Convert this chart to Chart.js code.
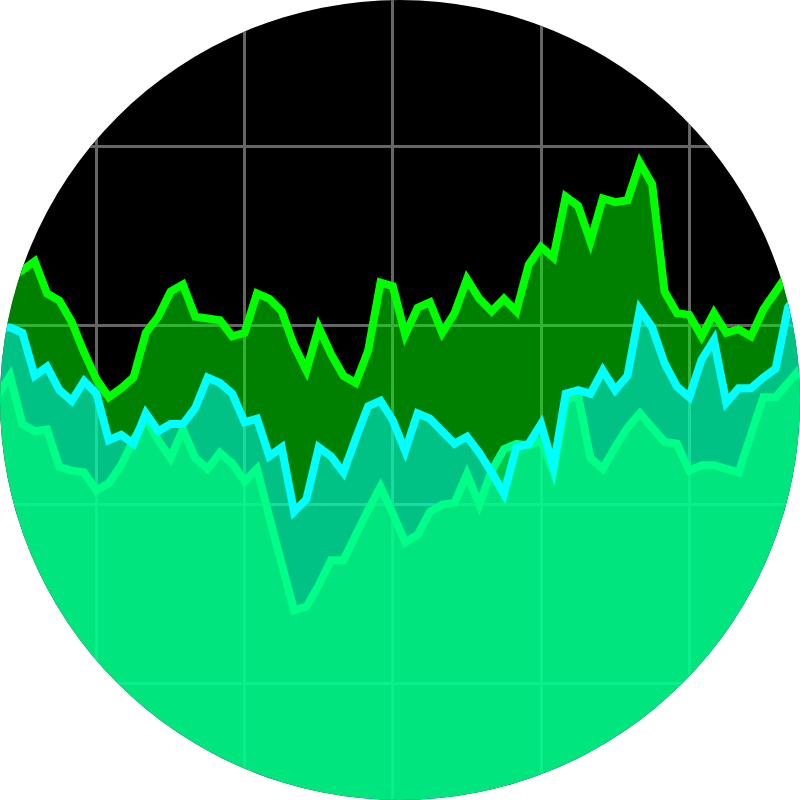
<!DOCTYPE html>
<html>
<head>
<meta charset="utf-8">
<script src="https://cdn.jsdelivr.net/npm/chart.js@4.4.0/dist/chart.umd.min.js"></script>
<style>
  html, body { margin: 0; padding: 0; background: #ffffff; }
  #wrap { position: absolute; left: 0; top: 0; width: 800px; height: 800px; border-radius: 50%; overflow: hidden; background: #000000; }
  canvas { display: block; }
</style>
</head>
<body>
<div id="wrap"><canvas id="c" width="800" height="800"></canvas></div>
<script>
// Sample index for each point (left to right)
const pointIndex = Array.from({length: 66}, (_, i) => i);

// Series values
const topGreen = [22.3, 22.7, 23.1, 23.6, 21.8, 21.4, 20.2, 18.5, 17.0, 16.0,
  16.5, 17.1, 19.6, 20.5, 21.9, 22.3, 20.5, 20.4, 20.3, 19.4,
  19.6, 21.8, 21.5, 20.8, 18.9, 17.5, 19.9, 18.4, 17.2, 16.8,
  18.6, 22.4, 22.2, 19.5, 21.0, 21.3, 19.6, 20.7, 22.6, 21.5,
  20.8, 21.5, 20.8, 23.4, 24.4, 23.8, 27.2, 26.7, 24.7, 27.1,
  26.9, 27.0, 29.1, 27.9, 21.9, 20.7, 20.6, 19.4, 20.7, 19.6,
  19.8, 19.4, 20.9, 21.9, 22.9, 23.9];

const midCyan = [19.9, 19.9, 19.6, 17.2, 17.7, 16.4, 15.8, 16.9, 16.2, 13.6,
  13.9, 13.4, 15.1, 14.1, 14.5, 14.5, 15.4, 17.1, 16.8, 16.2,
  14.6, 14.8, 12.7, 13.2, 9.6, 10.3, 13.2, 12.7, 11.8, 13.7,
  15.5, 15.8, 14.7, 13.0, 15.1, 14.8, 14.1, 13.4, 13.8, 12.9,
  11.8, 10.6, 13.2, 13.4, 14.5, 12.1, 16.2, 16.4, 16.2, 17.5,
  16.4, 17.2, 20.9, 19.9, 17.9, 16.6, 16.0, 18.1, 19.2, 15.7,
  16.5, 16.5, 17.1, 17.6, 21.0, 22.0];

const lowMint = [16.1, 17.2, 14.5, 14.1, 14.2, 12.1, 11.9, 11.8, 10.8, 11.2,
  12.2, 13.6, 14.8, 13.6, 12.6, 14.2, 12.6, 12.0, 12.9, 12.3,
  11.3, 12.0, 9.3, 6.7, 4.1, 4.3, 5.5, 6.9, 6.9, 8.3,
  9.7, 11.0, 9.5, 7.9, 8.3, 9.6, 10.0, 10.1, 11.7, 10.0,
  11.9, 13.1, 13.4, 13.3, 13.6, 11.8, 15.8, 16.1, 12.6, 12.0,
  13.2, 14.3, 15.1, 14.3, 13.5, 13.4, 11.9, 12.2, 12.2, 12.0,
  11.8, 13.9, 16.0, 16.0, 16.8, 17.6];

// Grid line positions (no labels are shown)
const xGridTicks = [8, 20, 32, 44, 56];
const yGridTicks = [0, 10, 20, 30];

const toPoints = vals => vals.map((v, i) => ({x: pointIndex[i], y: v}));

function fillSet(vals, color, order) {
  return { data: toPoints(vals), fill: 'start', backgroundColor: color,
           borderWidth: 0, pointRadius: 0, order: order };
}
function lineSet(vals, color, order) {
  return { data: toPoints(vals), fill: false, borderColor: color,
           borderWidth: 8, pointRadius: 0, order: order, borderJoinStyle: 'miter' };
}

new Chart(document.getElementById('c'), {
  type: 'line',
  data: {
    datasets: [
      fillSet(topGreen, 'rgba(0,255,0,0.5)', 6),
      fillSet(midCyan, 'rgba(0,255,255,0.52)', 5),
      fillSet(lowMint, 'rgba(0,255,122,0.57)', 4),
      lineSet(topGreen, '#00ff00', 3),
      lineSet(lowMint, '#00ff88', 2),
      lineSet(midCyan, '#00ffff', 1)
    ]
  },
  options: {
    responsive: false,
    animation: false,
    devicePixelRatio: 1,
    layout: { padding: 0 },
    elements: { line: { tension: 0 } },
    plugins: {
      legend: { display: false },
      tooltip: { enabled: false },
      filler: { drawTime: 'beforeDatasetsDraw' }
    },
    scales: {
      x: {
        type: 'linear', min: 0.19, max: 64.97,
        border: { display: false },
        ticks: { display: false },
        grid: { color: '#666666', lineWidth: 3, drawTicks: false },
        afterBuildTicks: s => { s.ticks = xGridTicks.map(v => ({value: v})); }
      },
      y: {
        type: 'linear', min: -6.5, max: 38.19,
        border: { display: false },
        ticks: { display: false },
        grid: { color: '#666666', lineWidth: 3, drawTicks: false },
        afterBuildTicks: s => { s.ticks = yGridTicks.map(v => ({value: v})); }
      }
    }
  }
});
</script>
</body>
</html>
